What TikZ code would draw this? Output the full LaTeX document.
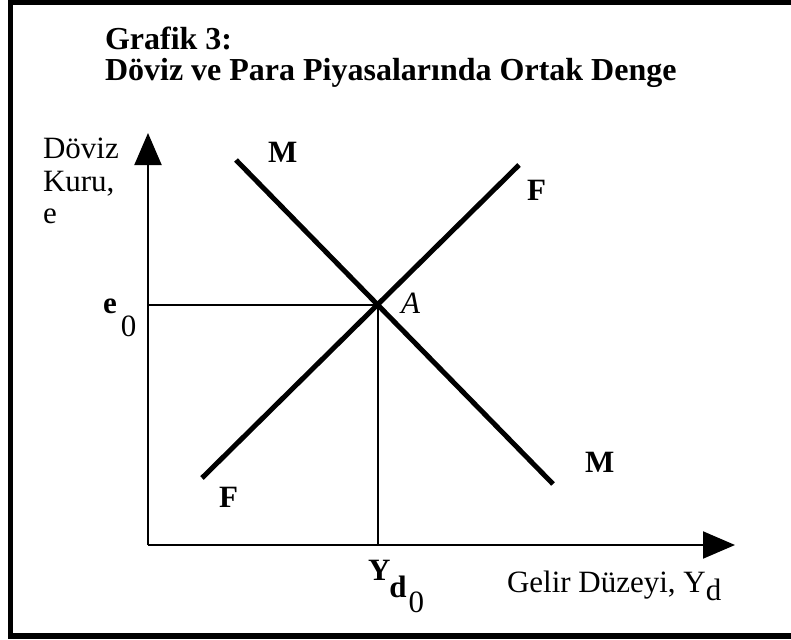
\documentclass[tikz,border=0pt]{standalone}
\usepackage{fontspec}
\setmainfont{Liberation Serif}
\usetikzlibrary{arrows.meta}
\tikzset{
  lbl/.style={inner sep=0pt, outer sep=0pt, anchor=base west, font=\fontsize{31}{32}\selectfont},
  blbl/.style={lbl, font=\fontsize{31}{32}\selectfont\bfseries},
  ttl/.style={inner sep=0pt, outer sep=0pt, anchor=base west, font=\fontsize{32}{28}\selectfont\bfseries},
  axis/.style={line width=2pt, -{Triangle[length=32pt,width=27pt]}},
  guide/.style={line width=2pt},
  curve/.style={line width=5pt},
  frame/.style={line width=5.5pt}
}
\begin{document}
\begin{tikzpicture}[x=1pt,y=-1pt]
\useasboundingbox (0,0) rectangle (791,639);
\fill[white] (0,0) rectangle (791,639);
\draw[frame] (795,2.5) -- (10.5,2.5) -- (10.5,636) -- (795,636);
% title
\node[ttl] (t1) at (105,50) {Grafik 3:};
\node[ttl] (t2) at (105,81) {Döviz ve Para Piyasalarında Ortak Denge};
% axes
\coordinate (O) at (148,545);
\coordinate (ytop) at (148,133);
\coordinate (xend) at (735,545);
\draw[axis] (O) -- (ytop);
\draw[axis] (O) -- (xend);
% curves
\coordinate (M1) at (236,160);
\coordinate (M2) at (553,484);
\coordinate (F1) at (202,478);
\coordinate (F2) at (519,165);
\draw[curve] (M1) -- (M2);
\draw[curve] (F1) -- (F2);
% equilibrium
\coordinate (A) at (378,305);
\coordinate (e0p) at (148,305);
\coordinate (y0p) at (378,545);
\draw[guide] (e0p) -- (A) -- (y0p);
% labels
\node[lbl] (dv1) at (43,159) {Döviz};
\node[lbl] (dv2) at (43,191) {Kuru,};
\node[lbl] (dv3) at (43,223) {e};
\node[lbl] (e0) at (103,313) {\textbf{e}\kern4pt\raisebox{-23pt}{0}};
\node[lbl] (Alab) at (401,313) {\itshape A};
\node[blbl] (Mtop) at (268,163) {M};
\node[blbl] (Ftop) at (527,200) {F};
\node[blbl] (Mbot) at (585,472) {M};
\node[blbl] (Fbot) at (219,507) {F};
\node[lbl] (yd0) at (368,580) {\textbf{Y}\kern-1pt\raisebox{-17pt}{\textbf{d}}\kern2pt\raisebox{-32pt}{0}};
\node[lbl] (xlab) at (507,592) {Gelir Düzeyi, Y\raisebox{-8pt}{d}};
\end{tikzpicture}
\end{document}
